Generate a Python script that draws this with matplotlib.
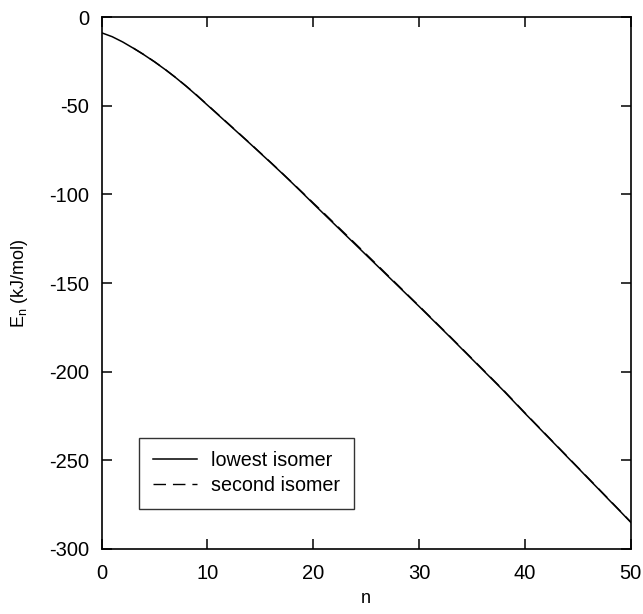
import matplotlib
matplotlib.use('Agg')
import matplotlib.pyplot as plt

plt.rcParams['font.family'] = ['Liberation Sans', 'DejaVu Sans']
plt.rcParams['axes.unicode_minus'] = False

# cluster size n and energies E_n (kJ/mol)
n_lowest = list(range(0, 51))
E_lowest = [-8.8, -11.0, -14.0, -17.5, -21.2, -25.2, -29.5, -34.1, -39.0, -44.2,
            -49.6, -55.0, -60.4, -65.8, -71.2, -76.7, -82.2, -87.8, -93.5, -99.3,
            -105.2, -111.0, -116.8, -122.6, -128.4, -134.2, -140.0, -145.8, -151.6, -157.4,
            -163.2, -169.1, -175.0, -180.9, -186.9, -192.9, -198.9, -204.9, -210.9, -217.2,
            -223.5, -229.6, -235.8, -241.9, -248.1, -254.2, -260.4, -266.5, -272.7, -278.8,
            -285.0]

n_second = list(range(3, 51))
E_second = [-17.4, -21.1, -25.1, -29.4, -34.0, -38.9, -44.0,
            -49.4, -54.8, -60.2, -65.6, -71.0, -76.5, -82.0, -87.6, -93.3, -99.0,
            -104.8, -110.5, -116.3, -122.1, -127.9, -133.7, -139.5, -145.4, -151.2, -157.1,
            -162.9, -168.8, -174.7, -180.6, -186.6, -192.6, -198.6, -204.6, -210.6, -216.9,
            -223.2, -229.4, -235.5, -241.7, -247.8, -254.0, -260.1, -266.3, -272.4, -278.6,
            -284.8]

fig = plt.figure(figsize=(6.43, 6.14), dpi=100)
ax = fig.add_axes([0.158, 0.106, 0.823, 0.866])

ax.plot(n_second, E_second, color='black', lw=1.0, dashes=(9, 5), label='second isomer')
ax.plot(n_lowest, E_lowest, color='black', lw=1.1, label='lowest isomer')

ax.set_xlim(0, 50)
ax.set_ylim(-300, 0)
ax.set_xticks([0, 10, 20, 30, 40, 50])
ax.set_yticks([-300, -250, -200, -150, -100, -50, 0])
ax.tick_params(direction='in', top=True, right=True, length=7, width=1.1,
               labelsize=14.5)
ax.tick_params(axis='x', pad=11)
ax.tick_params(axis='y', pad=9)
for s in ax.spines.values():
    s.set_linewidth(1.2)

ax.set_xlabel('n', fontsize=13, labelpad=5)
ax.set_ylabel(r'E$_\mathregular{n}$ (kJ/mol)', fontsize=13, labelpad=14)

handles, labels = ax.get_legend_handles_labels()
leg = ax.legend(handles[::-1], labels[::-1], loc='lower left',
                bbox_to_anchor=(0.0705, 0.075), borderaxespad=0,
                fontsize=14.2, frameon=True, fancybox=False, edgecolor='black',
                handlelength=2.25, handletextpad=0.7, borderpad=0.7, labelspacing=0.3)
leg.get_frame().set_linewidth(1.0)

fig.savefig('out.png', dpi=100)
